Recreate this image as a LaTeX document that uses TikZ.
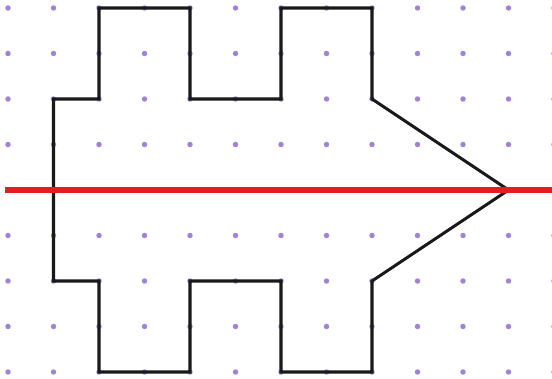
\documentclass[tikz,border=0pt]{standalone}
\usepackage{tikz}
\definecolor{dotpurple}{RGB}{160,130,215}
\definecolor{axisred}{RGB}{225,30,35}
\begin{document}
\begin{tikzpicture}[x=1cm,y=1cm,line join=miter]
  % frame with the margins of the picture
  \useasboundingbox (-0.176,-0.132) rectangle (11.956,8.176);
  % dot grid
  \foreach \i in {0,...,12}
    \foreach \j in {0,...,8}
      \fill[dotpurple] (\i,\j) circle (0.06);
  % the figure
  \draw[line width=1.9pt,black!90]
      (1,6)--(2,6)--(2,8)--(4,8)--(4,6)--(6,6)--(6,8)--(8,8)--(8,6)
      --(11,4)--(8,2)--(8,0)--(6,0)--(6,2)--(4,2)--(4,0)--(2,0)--(2,2)
      --(1,2)--cycle;
  % line of symmetry
  \draw[axisred,line width=3.6pt] (-0.07,4)--(12.2,4);
\end{tikzpicture}
\end{document}
